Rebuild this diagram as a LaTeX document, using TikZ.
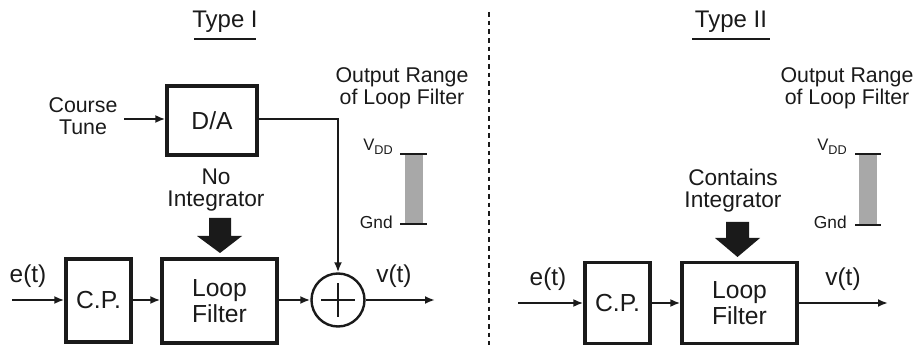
\documentclass[tikz,border=0pt]{standalone}
\usepackage{fontspec}
\setmainfont{Liberation Sans}
\usetikzlibrary{arrows.meta}
\definecolor{ink}{HTML}{1A1A1A}
\definecolor{bargray}{HTML}{A8A8A8}
\begin{document}
\begin{tikzpicture}[x=0.75pt,y=-0.75pt,
  every node/.style={text=ink},
  blk/.style={draw=ink,line width=2.5pt,rectangle,inner sep=0pt,font=\fontsize{18.5}{20}\selectfont,align=center},
  sig/.style={draw=ink,line width=1.6pt,-{Latex[length=7.5pt,width=6pt]}},
  lbl/.style={font=\fontsize{18.3}{20}\selectfont},
  note/.style={font=\fontsize{16}{16.5}\selectfont,align=center},
  intg/.style={font=\fontsize{17}{16.5}\selectfont,align=center},
  rail/.style={font=\fontsize{12.5}{14}\selectfont,anchor=east,inner sep=0pt},
  title/.style={font=\fontsize{18}{20}\selectfont}]
\useasboundingbox (0,0) rectangle (917,345);

% ---------- Type I ----------
\node[title] (t1) at (225,22) {Type I};
\draw[ink,line width=1.6pt] (194,39) -- (256,39);

\node[note] (ct) at (83,116) {Course\\Tune};
\node[blk,minimum width=67.5pt,minimum height=51.75pt] (da) at (212,120.5) {D/A};
\draw[sig] (124,119) coordinate (ctend) -- (da.west |- ctend);

\node[blk,minimum width=48.75pt,minimum height=62.25pt] (cp1) at (98.5,300.5) {C.P.};
\node[blk,minimum width=86.25pt,minimum height=63pt] (lf1) at (219.5,301) {Loop\\Filter};
\node[circle,draw=ink,line width=1.8pt,minimum size=39.75pt,inner sep=0pt] (sum) at (338,300) {};
\draw[ink,line width=0.8pt] ([xshift=-12.5pt]sum.center) -- ([xshift=12.5pt]sum.center)
  ([yshift=-12.5pt]sum.center) -- ([yshift=12.5pt]sum.center);

\coordinate (in1) at (12,300);
\coordinate (out1) at (435,300);
\draw[sig] (in1) -- (cp1.west |- in1);
\draw[sig] (cp1.east |- in1) -- (lf1.west |- in1);
\draw[sig] (lf1.east |- in1) -- (sum.west);
\draw[sig] (sum.east) -- (out1);
\draw[sig] (da.east |- ctend) -| (sum.north);

\node[lbl] (e1) at (28,276) {e(t)};
\node[lbl] (v1) at (394,276) {v(t)};

\node[intg] (ni) at (216,190) {No\\Integrator};
\fill[ink] (209,218) -- (231,218) -- (231,236) -- (242,236) -- (220,253) -- (197,236) -- (209,236) -- cycle;

\node[note] (or1) at (402,88) {Output Range\\of Loop Filter};
\fill[bargray] (405,154) rectangle (423,224);
\draw[ink,line width=1.8pt] (400,154) -- (427,154) (400,224) -- (427,224);
\node[rail] (vdd1) at (393,147) {V\raisebox{-0.45ex}{\fontsize{9.5}{11}\selectfont DD}};
\node[rail] (gnd1) at (393,222) {\fontsize{13}{14}\selectfont Gnd};

% ---------- separator ----------
\draw[ink,line width=1pt,dash pattern=on 3.5pt off 3pt] (489,12) -- (489,345);

% ---------- Type II ----------
\node[title] (t2) at (731,22) {Type II};
\draw[ink,line width=1.6pt] (692,39) -- (770,39);

\node[blk,minimum width=48.75pt,minimum height=60.75pt] (cp2) at (617.5,303) {C.P.};
\node[blk,minimum width=86.25pt,minimum height=60.75pt] (lf2) at (739.5,303) {Loop\\Filter};
\coordinate (in2) at (518,303);
\coordinate (out2) at (888,303);
\draw[sig] (in2) -- (cp2.west |- in2);
\draw[sig] (cp2.east |- in2) -- (lf2.west |- in2);
\draw[sig] (lf2.east |- in2) -- (out2);

\node[lbl] (e2) at (548,279) {e(t)};
\node[lbl] (v2) at (843,279) {v(t)};

\node[intg] (ci) at (733,191) {Contains\\Integrator};
\fill[ink] (726,222) -- (749,222) -- (749,238) -- (760,238) -- (737.5,257) -- (715,238) -- (726,238) -- cycle;

\node[note] (or2) at (847,88) {Output Range\\of Loop Filter};
\fill[bargray] (859,154) rectangle (877,225);
\draw[ink,line width=1.8pt] (855,154) -- (881,154) (855,225) -- (881,225);
\node[rail] (vdd2) at (847,147) {V\raisebox{-0.45ex}{\fontsize{9.5}{11}\selectfont DD}};
\node[rail] (gnd2) at (847,222) {\fontsize{13}{14}\selectfont Gnd};
\end{tikzpicture}
\end{document}
